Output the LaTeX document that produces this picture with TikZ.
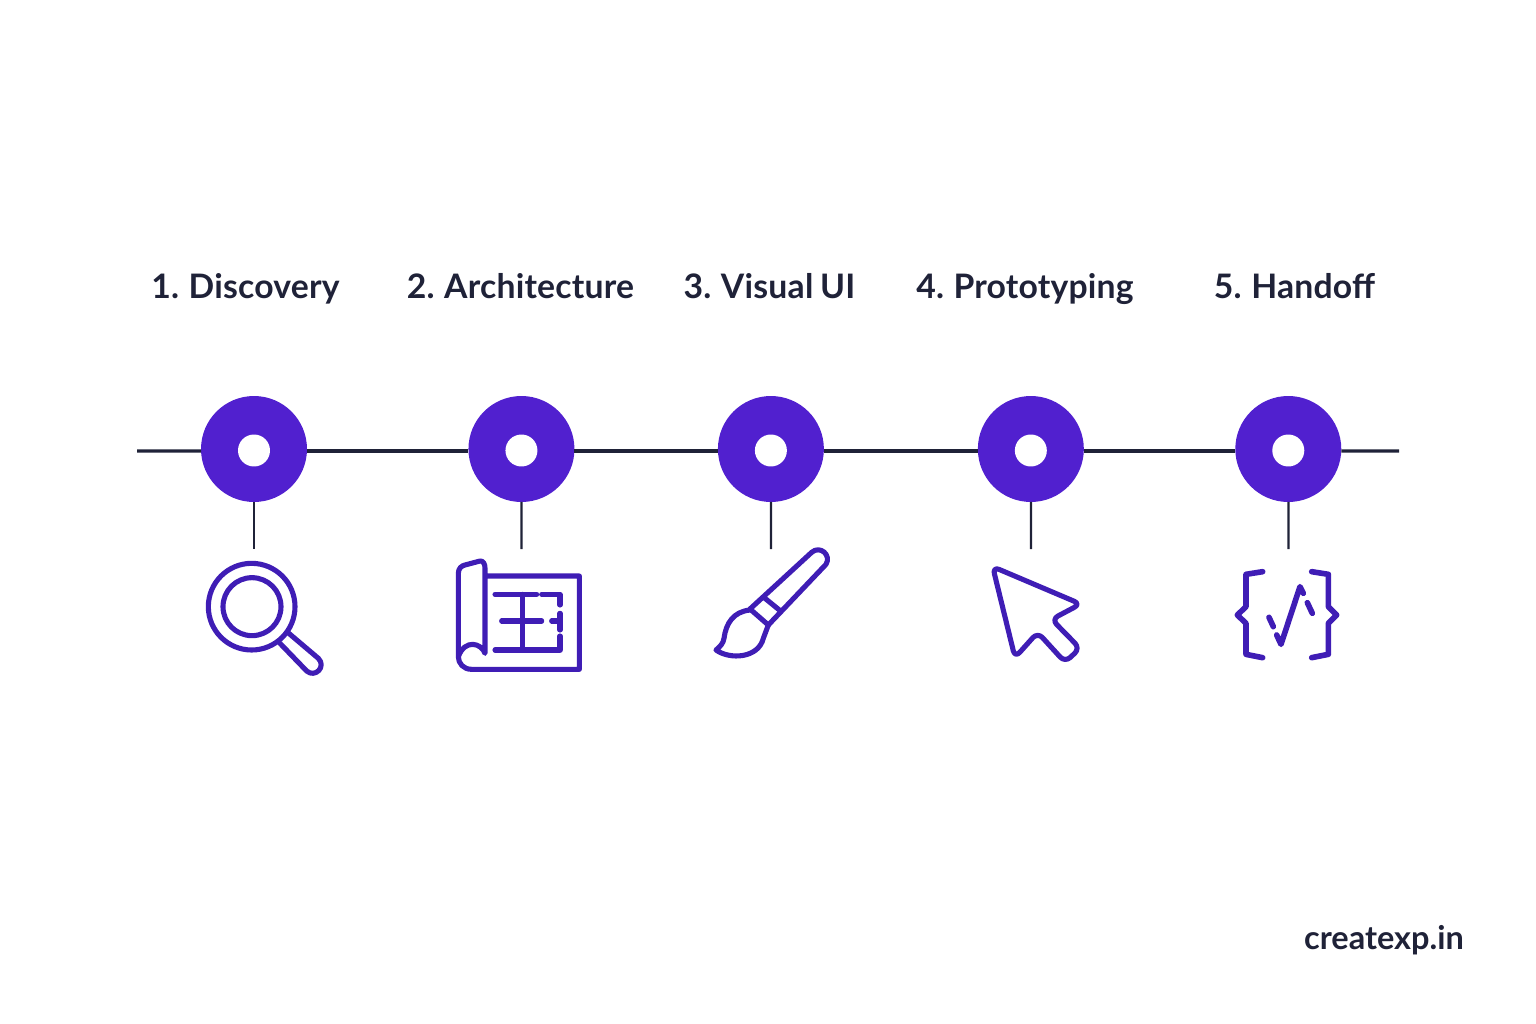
\documentclass[tikz,border=0pt]{standalone}
\usepackage{fontspec}
\usepackage{xcolor}
\setmainfont[WordSpace=0.8]{Lato}
\newfontfamily\labelfont[WordSpace=0.8, LetterSpace=0.6]{Lato}
\usetikzlibrary{positioning}
\definecolor{dotpurple}{HTML}{5120CF}
\definecolor{iconpurple}{HTML}{3F1DB5}
\definecolor{inkdark}{HTML}{1F2238}
\tikzset{
  station/.style={circle, fill=dotpurple, minimum size=2.12cm, inner sep=0pt, outer sep=0pt},
  hole/.style={circle, fill=white, minimum size=0.64cm, inner sep=0pt, yshift=-0.03cm},
  rail/.style={draw=inkdark, line width=1.9pt},
  stem/.style={draw=inkdark, line width=1.3pt},
  steplabel/.style={anchor=base, text=inkdark, font=\labelfont\fontsize{19.2}{22}\selectfont\bfseries},
  brandlabel/.style={anchor=base, text=inkdark, font=\fontsize{18.5}{22}\selectfont\bfseries},
  iconbox/.style={scale=1/3},
  icon/.style={draw=iconpurple, line width=2.9pt, line cap=round, line join=round},
}
\begin{document}
\begin{tikzpicture}[x=0.02cm, y=-0.02cm]
  \useasboundingbox (0,0) rectangle (1536,1024);
  \node (dot1) [station] at (254,449) {};
  \node (dot2) [station, right=3.23cm of dot1] {};
  \node (dot3) [station, right=2.87cm of dot2] {};
  \node (dot4) [station, right=3.08cm of dot3] {};
  \node (dot5) [station, right=3.03cm of dot4] {};
  \node (hole1) [hole] at (dot1) {};
  \node (hole2) [hole] at (dot2) {};
  \node (hole3) [hole] at (dot3) {};
  \node (hole4) [hole] at (dot4) {};
  \node (hole5) [hole] at (dot5) {};
  % the line
  \coordinate (railL) at (137,451);
  \coordinate (railR) at (1399,451);
  \draw[rail] (railL) -- ([yshift=-0.04cm]dot1.west);
  \draw[rail] ([yshift=-0.04cm]dot1.east) -- ([yshift=-0.04cm]dot2.west);
  \draw[rail] ([yshift=-0.04cm]dot2.east) -- ([yshift=-0.04cm]dot3.west);
  \draw[rail] ([yshift=-0.04cm]dot3.east) -- ([yshift=-0.04cm]dot4.west);
  \draw[rail] ([yshift=-0.04cm]dot4.east) -- ([yshift=-0.04cm]dot5.west);
  \draw[rail] ([yshift=-0.04cm]dot5.east) -- (railR);
  % stems
  \coordinate (stem1) at (254,549);
  \coordinate (stem2) at (521.5,549);
  \coordinate (stem3) at (771,549);
  \coordinate (stem4) at (1031,549);
  \coordinate (stem5) at (1288.5,549);
  \draw[stem] (dot1) -- (stem1);
  \draw[stem] (dot2) -- (stem2);
  \draw[stem] (dot3) -- (stem3);
  \draw[stem] (dot4) -- (stem4);
  \draw[stem] (dot5) -- (stem5);
  % labels
  \node (label1) [steplabel] at (245.5,298) {1. Discovery};
  \node (label2) [steplabel] at (520.5,298) {2. Architecture};
  \node (label3) [steplabel] at (769.5,298) {3. Visual UI};
  \node (label4) [steplabel] at (1025,298) {4. Prototyping};
  \node (label5) [steplabel] at (1294.5,298) {5. Handoff};
  \node (brand) [brandlabel] at (1384,949) {createxp.in};
  % magnifier
  \begin{scope}[shift={(190,540)}, iconbox]
    \draw[icon] (185,200) circle[radius=130];
    \draw[icon] (186,200) circle[radius=87];
    \draw[icon] (270,310) -- (350,393) .. controls (375,415) and (410,380) .. (385,355) -- (293,277);
  \end{scope}
  % blueprint
  \begin{scope}[shift={(440,550)}, iconbox]
    \draw[icon] (137,78) -- (418,78) -- (418,358) -- (95,358)
      .. controls (70,358) and (55,340) .. (55,320) -- (55,70)
      .. controls (55,55) and (65,47) .. (75,45) -- (120,33)
      .. controls (130,32) and (135,42) .. (135,55) -- (135,310)
      .. controls (125,280) and (75,265) .. (55,320);
    \draw[icon] (165,133) -- (290,133);
    \draw[icon] (305,133) -- (360,133) -- (360,165);
    \draw[icon] (248,133) -- (248,300);
    \draw[icon] (185,213) -- (305,213);
    \draw[icon] (335,213) -- (360,213);
    \draw[icon] (360,190) -- (360,240);
    \draw[icon] (360,258) -- (360,300) -- (165,300);
  \end{scope}
  % brush and cursor
  \begin{scope}[shift={(700,535)}, iconbox]
    \draw[icon] (150,222) -- (335,52) .. controls (360,30) and (395,60) .. (378,88) -- (205,270);
    \draw[icon] (150,222) -- (205,270);
    \draw[icon] (195,190) -- (238,225);
    \draw[icon] (150,225) .. controls (100,230) and (78,265) .. (72,310)
      .. controls (70,325) and (60,335) .. (48,345)
      .. controls (90,375) and (175,370) .. (190,310) -- (205,270);
    \draw[icon, rounded corners=4pt] (878,95) -- (1142,207) -- (1055,253) -- (1140,340) -- (1095,382) -- (1013,292) -- (945,368) -- cycle;
  \end{scope}
  % code braces
  \begin{scope}[shift={(1220,555)}, iconbox]
    \draw[icon, line width=3.2pt] (128,50) -- (78,58) -- (78,155) -- (52,180) -- (78,205) -- (78,298) -- (128,308);
    \draw[icon, line width=3.2pt] (275,50) -- (325,58) -- (325,155) -- (350,180) -- (325,205) -- (325,298) -- (275,308);
    \draw[icon, line width=3.2pt] (147,187) -- (160,215);
    \draw[icon, line width=3.2pt] (170,240) -- (183,268) -- (240,95) -- (250,115);
    \draw[icon, line width=3.2pt] (262,143) -- (277,175);
  \end{scope}
\end{tikzpicture}
\end{document}
